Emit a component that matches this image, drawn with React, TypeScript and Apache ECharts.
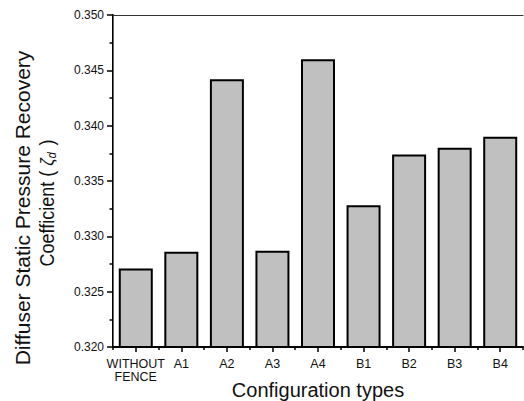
import React, { useEffect, useRef } from "react";
import * as echarts from "echarts";

const categories = ["WITHOUT\nFENCE", "A1", "A2", "A3", "A4", "B1", "B2", "B3", "B4"];
const recovery = [0.3271, 0.3286, 0.3442, 0.3287, 0.346, 0.3328, 0.3374, 0.338, 0.339];
const yTicks = { min: 0.32, max: 0.35, step: 0.005 };

const FONT = "Liberation Sans, Arial, sans-serif";

export default function App() {
  const ref = useRef<HTMLDivElement>(null);

  useEffect(() => {
    if (!ref.current) return;
    const chart = echarts.init(ref.current, undefined, { renderer: "svg" });
    chart.setOption({
      animation: false,
      backgroundColor: "#ffffff",
      textStyle: { fontFamily: FONT },
      grid: { left: 113, right: 1, top: 15, bottom: 54, containLabel: false, outerBoundsMode: "none" },
      xAxis: [
        {
          type: "category",
          data: categories,
          position: "bottom",
          boundaryGap: true,
          axisLine: { show: true, lineStyle: { color: "#000", width: 2 } },
          axisTick: { show: true, alignWithLabel: true, length: 5, lineStyle: { color: "#000", width: 1.5 } },
          axisLabel: { interval: 0, color: "#111", fontSize: 12.5, lineHeight: 13, margin: 10, fontFamily: FONT },
          name: "Configuration types",
          nameLocation: "middle",
          nameGap: 33,
          nameMoveOverlap: false,
          nameTextStyle: { color: "#111", fontSize: 20, fontFamily: FONT },
        },
        {
          type: "value",
          min: 0,
          max: 9,
          interval: 1,
          position: "bottom",
          axisLine: { show: false },
          axisTick: { show: true, length: 3, lineStyle: { color: "#000", width: 1.5 } },
          axisLabel: { show: false },
          splitLine: { show: false },
        },
        {
          type: "value",
          min: 0,
          max: 9,
          position: "top",
          axisLine: { show: true, lineStyle: { color: "#333", width: 1 } },
          axisTick: { show: false },
          axisLabel: { show: false },
          splitLine: { show: false },
        },
      ],
      yAxis: [
        {
          type: "value",
          min: yTicks.min,
          max: yTicks.max,
          interval: yTicks.step,
          position: "left",
          axisLine: { show: true, lineStyle: { color: "#000", width: 2 } },
          axisTick: { show: true, length: 6, lineStyle: { color: "#000", width: 1.5 } },
          minorTick: { show: true, splitNumber: 2, length: 3.5, lineStyle: { color: "#000", width: 1.5 } },
          axisLabel: {
            color: "#111",
            fontSize: 12,
            margin: 9,
            fontFamily: FONT,
            formatter: (v: number) => v.toFixed(3),
          },
          splitLine: { show: false },
        },
        {
          type: "value",
          min: yTicks.min,
          max: yTicks.max,
          position: "right",
          axisLine: { show: true, lineStyle: { color: "#666", width: 1 } },
          axisTick: { show: false },
          axisLabel: { show: false },
          splitLine: { show: false },
        },
      ],
      series: [
        {
          type: "bar",
          data: recovery,
          xAxisIndex: 0,
          yAxisIndex: 0,
          barWidth: 34,
          itemStyle: { color: "#c0c0c0", borderColor: "#000", borderWidth: 2 },
        },
      ],
      graphic: [
        {
          type: "text",
          x: 22,
          y: 208,
          rotation: Math.PI / 2,
          style: {
            text: "Diffuser Static Pressure Recovery",
            font: `21px ${FONT}`,
            fill: "#111",
            align: "center",
            verticalAlign: "middle",
          },
        },
        {
          type: "text",
          x: 47,
          y: 203,
          rotation: Math.PI / 2,
          scaleX: 0.9,
          style: {
            text: "Coefficient ( {z|ζ}{d|d} )",
            font: `20px ${FONT}`,
            fill: "#111",
            align: "center",
            verticalAlign: "middle",
            rich: {
              z: { fontSize: 18, fontStyle: "italic", fontFamily: FONT, fill: "#111" },
              d: { fontSize: 12, fontStyle: "italic", fontFamily: FONT, fill: "#111", padding: [9, 2, 0, 0] },
            },
          },
        },
      ],
    });
    return () => chart.dispose();
  }, []);

  return <div ref={ref} style={{ width: 524, height: 401, position: "absolute", left: 0, top: 0 }} />;
}
